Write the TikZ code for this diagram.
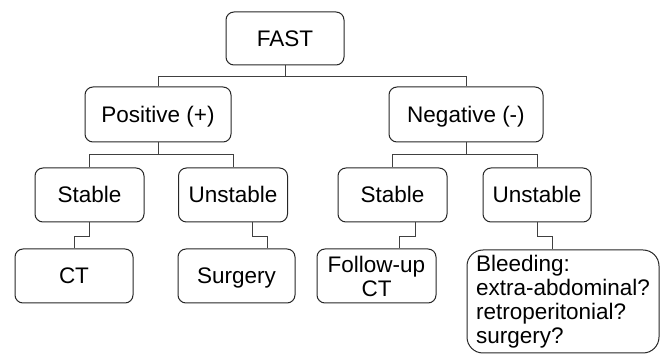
\documentclass[tikz,border=0pt]{standalone}
\usepackage{fontspec}
\setmainfont{Liberation Sans}
\usetikzlibrary{calc}

\begin{document}
\begin{tikzpicture}[x=1pt, y=-1pt,
		box/.style={draw=black!85, line width=1pt, rounded corners=8pt, minimum height=54pt, inner sep=0pt, align=center, font=\fontsize{22.5}{24}\selectfont},
		single/.style={box, text height=16pt, text depth=0pt},
		link/.style={draw=black!75, line width=1pt}]
				\useasboundingbox (0,0) rectangle (665,355);
				\node[single, minimum width=118pt, minimum height=53pt] (fast) at (285,38.5) {FAST};
				\node[single, minimum width=146pt, minimum height=55pt] (pos) at (158,114.5) {Positive (+)};
				\node[single, minimum width=154pt, minimum height=55pt] (neg) at (466,114.5) {Negative (-)};
				\node[single, minimum width=109pt] (st1) at (89.5,195) {Stable};
				\node[single, minimum width=109pt] (us1) at (233,195) {Unstable};
				\node[single, minimum width=109pt] (st2) at (392.5,195) {Stable};
				\node[single, minimum width=108pt] (us2) at (537,195) {Unstable};
				\node[single, minimum width=118pt] (ct) at (74,276) {CT};
				\node[single, minimum width=117pt] (surg) at (236.5,276) {Surgery};
				\node[box, minimum width=119pt] (fup) at (376.5,276) {Follow-up\\CT};
				\node[box, align=left, rounded corners=16pt, minimum width=192pt, minimum height=103pt] (bleed) at (563,301.5) {Bleeding:\\extra-abdominal?\\retroperitonial?\\surgery?};
				\draw[link] (fast.south) -- ++(0,11) -| (pos.north);
				\draw[link] (fast.south) ++(0,11) -| (neg.north);
				\draw[link] (pos.south) -- ++(0,12.5) -| (st1.north);
				\draw[link] (pos.south) ++(0,12.5) -| (us1.north);
				\draw[link] (neg.south) -- ++(0,12.5) -| (st2.north);
				\draw[link] (neg.south) ++(0,12.5) -| (us2.north);
				\draw[link] (st1.south) -- ++(0,14.5) -| (ct.north);
				\draw[link] ([xshift=19pt]us1.south) -- ++(0,14.5) -| ([xshift=30.5pt]surg.north);
				\draw[link] ([xshift=22.5pt]st2.south) -- ++(0,14.5) -| ([xshift=22.5pt]fup.north);
				\draw[link] (us2.south) -- ++(0,14.5) -| ([xshift=-11pt]bleed.north);
		\end{tikzpicture}
\end{document}
